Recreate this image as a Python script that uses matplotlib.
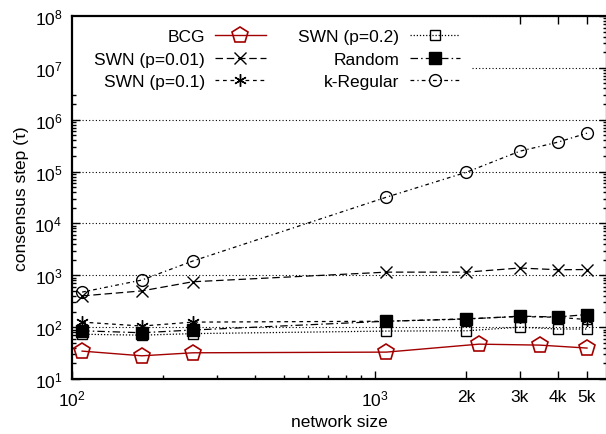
import numpy as np
import matplotlib
matplotlib.use("Agg")
import matplotlib.pyplot as plt
from matplotlib.patches import Rectangle
from matplotlib.ticker import FixedLocator, FixedFormatter, LogLocator, NullFormatter

plt.rcParams['font.family'] = ['Liberation Sans', 'DejaVu Sans']
plt.rcParams['font.size'] = 12.5

# network sizes used by every series except BCG
sizes = [108, 170, 250, 1090, 2000, 3000, 4000, 5000]
bcg_sizes = [108, 170, 250, 1090, 2200, 3500, 5000]

bcg = [34.5, 28, 32, 33, 47, 45, 39.5]
swn_001 = [400, 500, 750, 1150, 1150, 1380, 1280, 1290]
swn_01 = [125, 105, 125, 130, 145, 160, 155, 140]
swn_02 = [73, 70, 75, 84, 85, 100, 92, 92]
random_net = [85, 78, 88, 130, 143, 163, 157, 175]
k_regular = [474, 810, 1880, 32100, 97000, 247000, 368000, 550000]

xtick_vals = [100, 1000, 2000, 3000, 4000, 5000]
xtick_labels = [r'$\mathregular{10^{2}}$', r'$\mathregular{10^{3}}$', '2k', '3k', '4k', '5k']
ytick_vals = [10.0 ** e for e in range(1, 9)]
ytick_labels = [r'$\mathregular{10^{%d}}$' % e for e in range(1, 9)]

fig = plt.figure(figsize=(6.06, 4.35), dpi=100)
ax = fig.add_axes([72 / 606, 55 / 435, 535 / 606, 363 / 435])

ax.plot(bcg_sizes, bcg, color='#a30000', lw=1.0, marker='p', ms=12,
        mfc='none', mew=1.2, label='BCG')
ax.plot(sizes, swn_001, color='black', lw=0.9, ls=(0, (6, 3)), marker='x',
        ms=9, mew=1.0, label='SWN (p=0.01)')
ax.plot(sizes, swn_01, color='black', lw=0.9, ls=(0, (3, 3)), marker=(6, 2, 0),
        ms=9, mew=1.0, label='SWN (p=0.1)')
ax.plot(sizes, swn_02, color='black', lw=0.9, ls=(0, (1, 1.5)), marker='s',
        ms=7.5, mfc='none', mew=1.0, label='SWN (p=0.2)')
ax.plot(sizes, random_net, color='black', lw=0.9, ls=(0, (6, 2.5, 1.2, 2.5)),
        marker='s', ms=9, label='Random')
ax.plot(sizes, k_regular, color='black', lw=0.9, ls=(0, (3, 2.5, 1, 2.5)),
        marker='o', ms=8.5, mfc='none', mew=1.0, label='k-Regular')

ax.set_xscale('log')
ax.set_yscale('log')
ax.set_xlim(100, 5820)
ax.set_ylim(10, 1e8)

ax.xaxis.set_major_locator(FixedLocator(xtick_vals))
ax.xaxis.set_major_formatter(FixedFormatter(xtick_labels))
ax.xaxis.set_minor_locator(LogLocator(base=10, subs=np.arange(2, 10)))
ax.xaxis.set_minor_formatter(NullFormatter())
ax.yaxis.set_major_locator(FixedLocator(ytick_vals))
ax.yaxis.set_major_formatter(FixedFormatter(ytick_labels))
ax.yaxis.set_minor_locator(LogLocator(base=10, subs=np.arange(2, 10), numticks=20))
ax.yaxis.set_minor_formatter(NullFormatter())

ax.tick_params(which='both', direction='in', top=True, right=True, width=1)
ax.tick_params(which='major', length=5.5)
ax.tick_params(which='minor', length=3)
ax.tick_params(axis='x', pad=7)
ax.tick_params(axis='y', pad=7)
for sp in ax.spines.values():
    sp.set_linewidth(1.6)

ax.yaxis.grid(True, which='major', ls=(0, (1, 2)), color='black', lw=0.8)

ax.set_xlabel('network size', labelpad=4)
ax.set_ylabel('consensus step (τ)', labelpad=4)

# blank area behind the key
ax.add_patch(Rectangle((0, 0.785), 0.748, 0.215, transform=ax.transAxes,
                       facecolor='white', edgecolor='none', zorder=1.8))

ax.legend(loc='upper left', bbox_to_anchor=(94 / 606, 1 - 30 / 435),
          bbox_transform=fig.transFigure, ncol=2, markerfirst=False,
          frameon=False, borderpad=0, borderaxespad=0, numpoints=1,
          handlelength=2.9, handletextpad=0.6, columnspacing=1.9,
          labelspacing=0.42)

fig.savefig('out.png', dpi=100)
